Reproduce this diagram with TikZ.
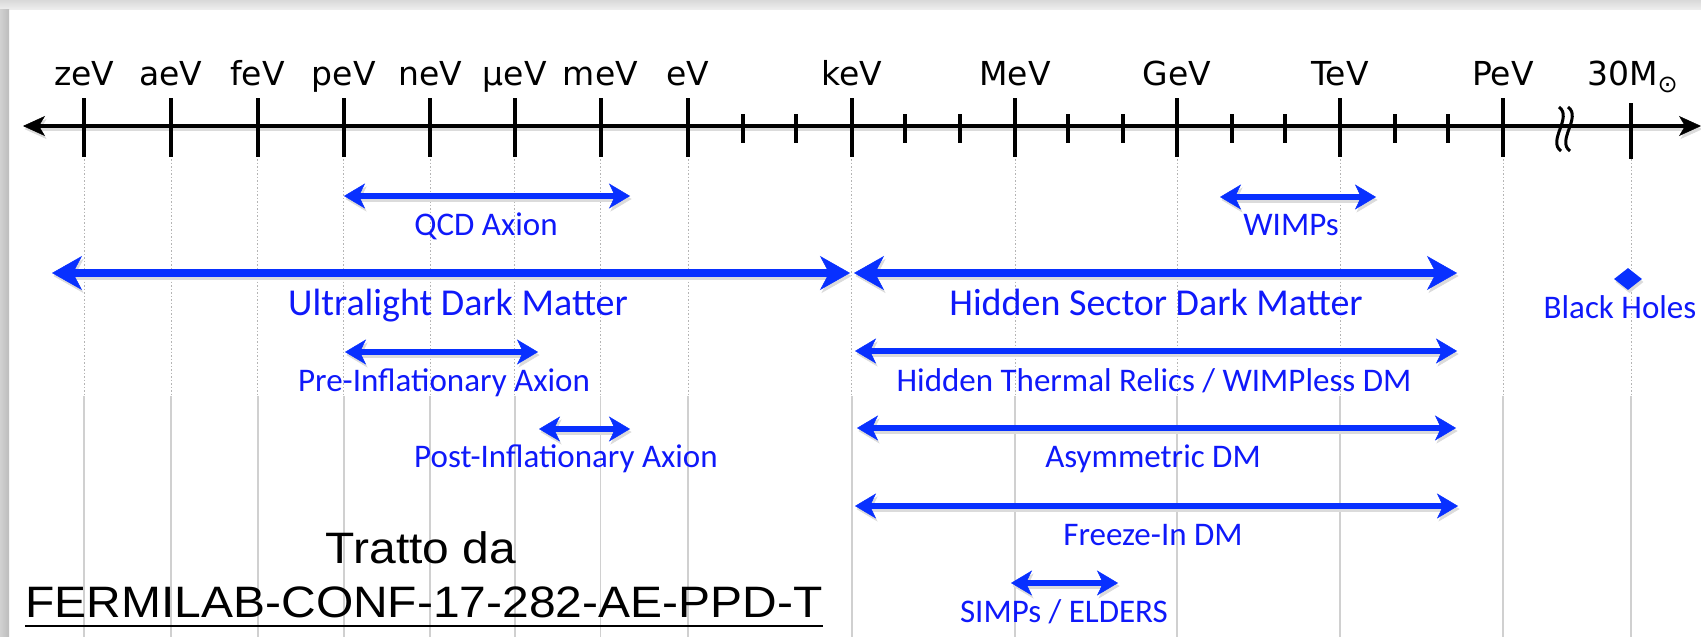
\documentclass[tikz,border=0pt]{standalone}
\usepackage{fontspec}
\setmainfont{DejaVu Sans}
\newfontfamily\axisfont{DejaVu Sans}
\newfontfamily\bluefont{Carlito}
\newfontfamily\creditfont[FakeStretch=1.09]{Liberation Sans}
\usetikzlibrary{arrows.meta,shapes.geometric}

\definecolor{arrowblue}{RGB}{8,48,255}
\definecolor{textblue}{RGB}{15,25,250}
\definecolor{gridgray}{RGB}{208,208,208}
\definecolor{dotgray}{RGB}{180,180,180}

\tikzset{
  unitlbl/.style={font=\axisfont\fontsize{33}{36}\selectfont, anchor=base, inner sep=0pt},
  biglbl/.style={font=\bluefont\fontsize{38}{40}\selectfont, text=textblue, anchor=base, inner sep=0pt},
  smalllbl/.style={font=\bluefont\fontsize{33}{36}\selectfont, text=textblue, anchor=base, inner sep=0pt},
  credit/.style={font=\creditfont\fontsize{44}{48}\selectfont, anchor=base, inner sep=0pt},
  wideband/.style={draw=arrowblue, line width=7.5pt,
    {Stealth[length=30pt,width=34pt,inset=9pt,line width=0.5pt]}-{Stealth[length=30pt,width=34pt,inset=9pt,line width=0.5pt]}},
  band/.style={draw=arrowblue, line width=5.5pt,
    {Stealth[length=21pt,width=25pt,inset=6pt,line width=0.5pt]}-{Stealth[length=21pt,width=25pt,inset=6pt,line width=0.5pt]}},
  castshadow/.style={draw=black!14, transform canvas={shift={(1.5pt,-3pt)}}},
  axisline/.style={line width=4pt,
    {Stealth[length=22pt,width=20pt,inset=6pt,line width=0.5pt]}-{Stealth[length=22pt,width=20pt,inset=6pt,line width=0.5pt]}},
  majortick/.style={line width=4pt},
  minortick/.style={line width=4pt},
  breakmark/.style={line width=3pt},
  gridfine/.style={draw=dotgray, line width=1pt, dash pattern=on 1.5pt off 2pt},
  gridsolid/.style={draw=gridgray, line width=1.8pt},
}

\begin{document}
\begin{tikzpicture}[x=1pt,y=-1pt]
\useasboundingbox (0,0) rectangle (1701,637);
\fill[white] (0,0) rectangle (1701,637);
% slide edge shading
\shade[top color=black!15, bottom color=black!7] (0,0) rectangle (1701,9);
\shade[left color=black!18, right color=black!26] (0,9) rectangle (9,637);

% vertical guide lines under the decades
\foreach \x in {84.2,171,257.6,343.7,430,514.7,600.5,688,851.7,1015,1177,1340,1503,1631}{
  \draw[gridfine] (\x,159) -- (\x,396);
  \draw[gridsolid] (\x,396) -- (\x,637);
}

% energy axis
\coordinate (axL) at (23,126);
\coordinate (axR) at (1701,126);
\draw[axisline, castshadow] (axL) -- (axR);
\draw[axisline] (axL) -- (axR);

\foreach \x in {84.2,171,257.6,343.7,430,514.7,600.5,688,851.7,1015,1177,1340,1503}{
  \draw[majortick] (\x,98) -- (\x,157);
}
\foreach \x in {743,796,904.5,960,1068,1123,1231.5,1285,1395,1448}{
  \draw[minortick] (\x,114) -- (\x,143);
}
\draw[majortick] (1631,103) -- (1631,159);

% axis break
\draw[breakmark] (1559,107) .. controls (1573,117) and (1547,141) .. (1561,151);
\draw[breakmark] (1568,107) .. controls (1582,117) and (1556,141) .. (1570,151);

% unit labels
\foreach \x/\t [count=\i] in {84.2/zeV,171/aeV,257.6/feV,343.7/peV,430/neV,514.7/μeV,600.5/meV,688/eV,851.7/keV,1015/MeV,1177/GeV,1340/TeV,1503/PeV}{
  \node[unitlbl] (u\i) at (\x,85) {\t};
}
\node[unitlbl, anchor=base west] (u30) at (1587,85) {30M\raisebox{-7pt}{\fontsize{24}{24}\selectfont ⊙}};

% mass ranges
\coordinate (qcdL) at (344,196);   \coordinate (qcdR) at (630,196);
\coordinate (wimpL) at (1220,197); \coordinate (wimpR) at (1376,197);
\coordinate (ultL) at (52,273);    \coordinate (ultR) at (850,273);
\coordinate (hidL) at (854,273);   \coordinate (hidR) at (1457,273);
\coordinate (preL) at (345,352);   \coordinate (preR) at (538,352);
\coordinate (thL) at (855,351);    \coordinate (thR) at (1457,351);
\coordinate (postL) at (539,429);  \coordinate (postR) at (630,429);
\coordinate (asyL) at (857,428);   \coordinate (asyR) at (1456,428);
\coordinate (frzL) at (855,506);   \coordinate (frzR) at (1458,506);
\coordinate (simL) at (1011,583);  \coordinate (simR) at (1118,583);

\foreach \a/\b in {qcdL/qcdR,wimpL/wimpR,preL/preR,thL/thR,postL/postR,asyL/asyR,frzL/frzR,simL/simR}{
  \draw[band, castshadow] (\a) -- (\b);
  \draw[band] (\a) -- (\b);
}
\foreach \a/\b in {ultL/ultR,hidL/hidR}{
  \draw[wideband, castshadow] (\a) -- (\b);
  \draw[wideband] (\a) -- (\b);
}

\node[diamond, fill=black!14, minimum width=28pt, minimum height=22pt, inner sep=0pt] (bhshadow) at (1629.5,282) {};
\node[diamond, fill=arrowblue, minimum width=28pt, minimum height=22pt, inner sep=0pt] (bh) at (1628,279) {};

\node[smalllbl] (lqcd) at (486,235) {QCD Axion};
\node[smalllbl] (lwimp) at (1291,235) {WIMPs};
\node[biglbl] (lult) at (458,315) {Ultralight Dark Matter};
\node[biglbl] (lhid) at (1156,315) {Hidden Sector Dark Matter};
\node[smalllbl] (lbh) at (1620,318) {Black Holes};
\node[smalllbl] (lpre) at (444,391) {Pre-Inflationary Axion};
\node[smalllbl] (lth) at (1154,391) {Hidden Thermal Relics / WIMPless DM};
\node[smalllbl] (lpost) at (566,467) {Post-Inflationary Axion};
\node[smalllbl] (lasy) at (1153,467) {Asymmetric DM};
\node[smalllbl] (lfrz) at (1153,545) {Freeze-In DM};
\node[smalllbl] (lsim) at (1064,622) {SIMPs / ELDERS};

% source note
\node[credit] (tratto) at (421,563) {Tratto da};
\node[credit] (source) at (424,617) {FERMILAB-CONF-17-282-AE-PPD-T};
\draw[line width=2.5pt] ([yshift=-9pt]source.base west) -- ([yshift=-9pt]source.base east);
\end{tikzpicture}
\end{document}
